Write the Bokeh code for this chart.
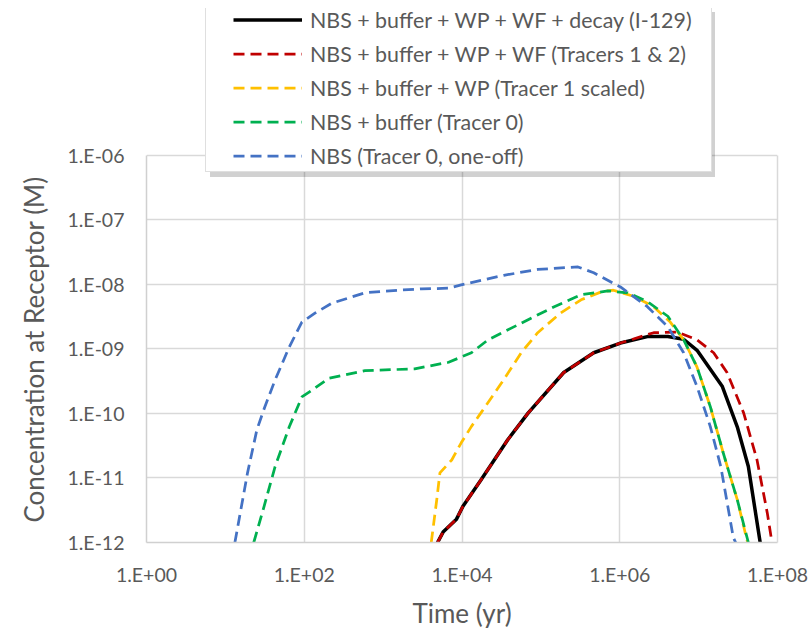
from bokeh.plotting import figure
from bokeh.models import Legend, LegendItem, FixedTicker, CustomJSTickFormatter, LogAxis, Title
from bokeh.embed import file_html
from bokeh.resources import INLINE

# ---------------- data ----------------
x_ticks = [1e0, 1e2, 1e4, 1e6, 1e8]
x_labels = ["1.E+00", "1.E+02", "1.E+04", "1.E+06", "1.E+08"]
y_ticks = [1e-12, 1e-11, 1e-10, 1e-9, 1e-8, 1e-7, 1e-6]
y_labels = ["1.E-12", "1.E-11", "1.E-10", "1.E-09", "1.E-08", "1.E-07", "1.E-06"]

series_names = [
    "NBS + buffer + WP + WF + decay (I-129)",
    "NBS + buffer + WP + WF (Tracers 1 & 2)",
    "NBS + buffer + WP (Tracer 1 scaled)",
    "NBS + buffer (Tracer 0)",
    "NBS (Tracer 0, one-off)",
]

decay_t = [4898, 5754, 8511, 10233, 17378, 38019, 69183, 194984, 467735, 1.02e6,
           2.24e6, 4.07e6, 6.46e6, 9.55e6, 2.0e7, 3.09e7, 4.27e7, 6.03e7]
decay_c = [1.0e-12, 1.45e-12, 2.3e-12, 3.6e-12, 9.3e-12, 3.9e-11, 1.02e-10, 4.3e-10, 8.7e-10, 1.23e-9,
           1.55e-9, 1.55e-9, 1.41e-9, 9.5e-10, 2.6e-10, 6.2e-11, 1.5e-11, 1.0e-12]

wf_t = [4898, 5754, 8511, 10233, 17378, 38019, 69183, 194984, 467735, 1.02e6,
        2.69e6, 5.37e6, 9.55e6, 1.55e7, 2.29e7, 3.72e7, 5.5e7, 7.41e7, 8.51e7]
wf_c = [1.0e-12, 1.45e-12, 2.3e-12, 3.6e-12, 9.3e-12, 3.9e-11, 1.02e-10, 4.3e-10, 8.7e-10, 1.23e-9,
        1.78e-9, 1.82e-9, 1.38e-9, 8.7e-10, 4.3e-10, 1.02e-10, 1.9e-11, 2.9e-12, 1.0e-12]

wp_t = [4074, 4786, 5248, 7413, 9772, 13183, 17378, 31623, 56234, 91201, 177828, 323594,
        575440, 831764, 1.51e6, 2.69e6, 4.37e6, 6.46e6, 9.55e6, 1.41e7, 2.04e7, 3.09e7, 4.17e7]
wp_c = [1.0e-12, 4.6e-12, 1.2e-11, 1.9e-11, 3.5e-11, 6.3e-11, 1.02e-10, 2.95e-10, 8.7e-10, 1.78e-9,
        3.6e-9, 5.75e-9, 7.6e-9, 8.1e-9, 6.5e-9, 4.5e-9, 2.6e-9, 1.38e-9, 5.2e-10, 1.26e-10,
        2.5e-11, 4.6e-12, 1.0e-12]

buf_t = [22.9, 30.9, 42.7, 64.6, 93.3, 126, 204, 589, 2512, 6761, 13183, 21380, 56234, 147911,
         323594, 707946, 1.26e6, 2.24e6, 4.07e6, 6.46e6, 9.55e6, 1.41e7, 2.04e7, 3.09e7, 4.27e7]
buf_c = [1.0e-12, 3.6e-12, 1.5e-11, 6.2e-11, 1.8e-10, 2.3e-10, 3.5e-10, 4.6e-10, 4.9e-10, 6.2e-10,
         8.7e-10, 1.38e-9, 2.5e-9, 4.5e-9, 6.9e-9, 7.9e-9, 7.4e-9, 5.4e-9, 3.2e-9, 1.38e-9,
         5.2e-10, 1.26e-10, 2.5e-11, 4.6e-12, 1.0e-12]

nbs_t = [13.2, 19.1, 25.1, 31.6, 42.7, 64.6, 93.3, 138, 224, 589, 1549, 3090, 6761, 9772, 33884,
         91201, 295121, 467735, 1.02e6, 2.24e6, 4.07e6, 6.46e6, 9.55e6, 1.41e7, 1.91e7, 2.75e7, 2.95e7]
nbs_c = [1.0e-12, 1.2e-11, 5.6e-11, 1.26e-10, 3.3e-10, 1.07e-9, 2.6e-9, 3.6e-9, 5.1e-9, 7.4e-9,
         8.1e-9, 8.5e-9, 8.7e-9, 9.8e-9, 1.38e-8, 1.7e-8, 1.86e-8, 1.51e-8, 9.1e-9, 4.5e-9, 2.2e-9,
         8.7e-10, 2.6e-10, 6.2e-11, 1.5e-11, 1.2e-12, 1.0e-12]

# ---------------- layout geometry ----------------
W, H = 810, 631
FRAME_LEFT, FRAME_RIGHT, FRAME_TOP, FRAME_BOTTOM = 144, 777, 8, 543
Y_MIN, Y_MAX = 1e-12, 1e-6          # plotted decades of the y axis
DECADE_PX = (FRAME_BOTTOM - 155) / 6.0   # 1.E-06 gridline sits at y=155
# the frame extends above 1.E-06 so that the legend box can sit over it
y_top = Y_MAX * 10 ** ((155 - FRAME_TOP) / DECADE_PX)

TEXT = "#595959"
FONT = "Lato"
GRID = "#d9d9d9"

p = figure(width=W, height=H, x_axis_type="log", y_axis_type="log",
           x_range=(1, 1e8), y_range=(Y_MIN, y_top),
           output_backend="svg", toolbar_location=None,
           min_border_left=FRAME_LEFT, min_border_right=W - FRAME_RIGHT,
           min_border_top=FRAME_TOP, min_border_bottom=H - FRAME_BOTTOM)
p.outline_line_color = None
p.background_fill_color = "white"
p.border_fill_color = "white"

fmt_code = """
let best = 0, bd = Infinity;
for (let i = 0; i < tv.length; i++) {
  const d = Math.abs(Math.log10(tick) - Math.log10(tv[i]));
  if (d < bd) { bd = d; best = i; }
}
return tl[best];
"""
p.xaxis.ticker = FixedTicker(ticks=x_ticks, minor_ticks=[])
p.yaxis.ticker = FixedTicker(ticks=y_ticks, minor_ticks=[])
p.xaxis.formatter = CustomJSTickFormatter(args=dict(tv=x_ticks, tl=x_labels), code=fmt_code)
p.yaxis.formatter = CustomJSTickFormatter(args=dict(tv=y_ticks, tl=y_labels), code=fmt_code)
p.yaxis.bounds = (Y_MIN, Y_MAX)

for ax in (p.xaxis, p.yaxis):
    ax.major_tick_line_color = None
    ax.minor_tick_line_color = None
    ax.major_tick_out = 0
    ax.major_tick_in = 0
    ax.axis_line_color = "#d0d0d0"
    ax.axis_line_width = 1.5
    ax.major_label_text_font = FONT
    ax.major_label_text_font_size = "19.5px"
    ax.major_label_text_color = TEXT
    ax.axis_label_text_font = FONT
    ax.axis_label_text_font_size = "26px"
    ax.axis_label_text_font_style = "normal"
    ax.axis_label_text_color = TEXT

p.xaxis.axis_label = "Time (yr)"
p.xaxis.major_label_standoff = 20
p.xaxis.axis_label_standoff = 8
p.yaxis.major_label_standoff = 22

# y-axis title, centred on the 1.E-12 .. 1.E-06 part of the left edge
y_title = Title(text="Concentration at Receptor (M)", align="left", offset=20,
                text_font=FONT, text_font_size="26px", text_font_style="normal",
                text_color=TEXT, standoff=30)
p.add_layout(y_title, "left")

# right border line of the plot area (only up to 1.E-06)
right_ax = LogAxis(ticker=FixedTicker(ticks=[], minor_ticks=[]), bounds=(Y_MIN, Y_MAX),
                   axis_line_color=GRID, axis_line_width=1.5,
                   major_tick_line_color=None, minor_tick_line_color=None,
                   major_tick_out=0, major_tick_in=0, major_label_text_font_size="0px")
p.add_layout(right_ax, "right")

p.xgrid.ticker = FixedTicker(ticks=x_ticks[1:-1], minor_ticks=[])
p.xgrid.grid_line_color = GRID
p.ygrid.grid_line_color = GRID
p.xgrid.grid_line_width = 1.5
p.ygrid.grid_line_width = 1.5

DASH = "11 6"
r_decay = p.line(decay_t, decay_c, line_color="black", line_width=3.5)
r_wf = p.line(wf_t, wf_c, line_color="#c00000", line_width=2.75, line_dash=DASH)
r_wp = p.line(wp_t, wp_c, line_color="#ffc000", line_width=2.75, line_dash=DASH)
r_buf = p.line(buf_t, buf_c, line_color="#00b050", line_width=2.75, line_dash=DASH)
r_nbs = p.line(nbs_t, nbs_c, line_color="#4472c4", line_width=2.75, line_dash=DASH)

# invisible renderer used only to draw the legend frame and its shadow
dummy = p.line(x=[], y=[], line_alpha=0)

box_kw = dict(padding=0, margin=0, spacing=0, glyph_width=1, label_standoff=0,
              label_width=504, label_height=165, glyph_height=165,
              label_text_font_size="1px", label_text_alpha=0)
shadow = Legend(items=[LegendItem(label=" ", renderers=[dummy])], location=(64, 365),
                border_line_color=None, background_fill_color="#000000",
                background_fill_alpha=0.18, **box_kw)
frame_box = Legend(items=[LegendItem(label=" ", renderers=[dummy])], location=(59, 370),
                   border_line_color="#bfbfbf", border_line_width=1,
                   background_fill_color="white", background_fill_alpha=1, **box_kw)

renderers = [r_decay, r_wf, r_wp, r_buf, r_nbs]
items = [LegendItem(label=n, renderers=[r]) for n, r in zip(series_names, renderers)]
legend = Legend(items=items, location=(87, 373.5), padding=0, margin=0, spacing=8,
                glyph_width=69, glyph_height=25, label_height=25, label_standoff=8,
                label_text_font=FONT, label_text_font_size="21.4px", label_text_color=TEXT,
                border_line_color=None, background_fill_alpha=0)

p.add_layout(shadow, "center")
p.add_layout(frame_box, "center")
p.add_layout(legend, "center")

open("out.html", "w").write(file_html(p, INLINE))
